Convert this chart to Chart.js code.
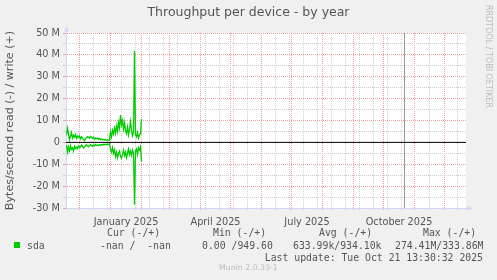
<!DOCTYPE html>
<html>
<head>
<meta charset="utf-8">
<title>Throughput per device - by year</title>
<script src="https://cdn.jsdelivr.net/npm/chart.js@4.4.1/dist/chart.umd.min.js"></script>
<style>
  body { margin: 0; background: #f0f0f0; }
  #wrap { position: relative; width: 497px; height: 280px; overflow: hidden; }
  #wrap canvas { position: absolute; left: 0; top: 0; }
  .lg { position: absolute; white-space: pre; font-family: "DejaVu Sans Mono", monospace; font-size: 9.8px; line-height: 12px; color: #555; }
  .wm { position: absolute; white-space: pre; font-family: "DejaVu Sans", sans-serif; color: #bbb; }
  #swatch { position: absolute; left: 14px; top: 242px; width: 6px; height: 6px; background: #00cc00; }
</style>
</head>
<body>
<div id="wrap">
  <canvas id="chart" width="497" height="280"></canvas>
  <div class="wm" style="left:483px; top:5px; font-size:8px; line-height:10px; writing-mode:vertical-rl;">RRDTOOL / TOBI OETIKER</div>
  <div id="swatch"></div>
  <div class="lg" style="left:107px; top:227px;">Cur (-/+)</div>
  <div class="lg" style="left:213px; top:227px;">Min (-/+)</div>
  <div class="lg" style="left:319px; top:227px;">Avg (-/+)</div>
  <div class="lg" style="left:423px; top:227px;">Max (-/+)</div>
  <div class="lg" style="left:27px; top:240px;">sda</div>
  <div class="lg" style="left:100px; top:240px;">-nan /  -nan</div>
  <div class="lg" style="left:202px; top:240px;">0.00 /949.60</div>
  <div class="lg" style="left:293px; top:240px;">633.99k/934.10k</div>
  <div class="lg" style="left:395px; top:240px;">274.41M/333.86M</div>
  <div class="lg" style="right:14px; top:252px;">Last update: Tue Oct 21 13:30:32 2025</div>
  <div class="wm" style="left:219px; top:263px; font-size:7.8px; line-height:10px;">Munin 2.0.33-1</div>
</div>
<script>
// days counted from 1 January 2025
const xMin = -44.5;
const xMax = 355.5;
const startDay = -44;
const nowDay = 294;

const monthStartDays = [-31, 0, 31, 59, 90, 120, 151, 181, 212, 243, 273, 304, 334];
const weekGridDays = [-17, -3, 11, 25, 39, 53, 67, 81, 95, 109, 123, 137, 165, 179, 193, 207, 221, 235, 249, 263, 277, 291, 319, 347];
const xLabelDays = [15.5, 105, 196.5, 288.5];
const xLabels = ['January 2025', 'April 2025', 'July 2025', 'October 2025'];

// MB/s
const yMin = -30;
const yMax = 50;
const yMajorTicks = [-30, -20, -10, 0, 10, 20, 30, 40, 50];
const yMinorTicks = [-25, -15, -5, 5, 15, 25, 35, 45];

// one value per day from startDay
const writeValues = [
  3.5, 6.5, 4.0, 1.2, 2.8, 4.5, 2.0, 3.2, 2.4, 3.6, 1.8, 2.9, 2.2, 3.0, 1.6, 2.5,
  2.0, 1.3, 0.8, 1.6, 2.1, 2.6, 2.3, 1.9, 2.7, 2.2, 1.8, 2.4, 1.5, 2.0, 1.6, 1.9,
  1.4, 1.7, 1.3, 1.5, 1.2, 1.4, 1.1, 1.3, 1.0, 1.2, 0.9, 1.0,
  4.8, 2.5, 5.5, 3.8, 6.5, 4.0, 7.5, 5.0, 9.0, 6.5, 12.5, 8.0, 10.0, 6.0, 9.0, 5.5,
  4.0, 7.0, 3.5, 6.0, 9.5, 5.5, 3.0, 4.5, 41.8, 3.5, 2.5, 4.5, 2.0, 3.5, 4.0, 10.7
];
const readValues = [
  1.2, 4.5, 2.0, 3.8, 1.5, 3.2, 2.5, 4.0, 1.8, 2.8, 2.2, 3.0, 1.6, 2.4, 2.0, 1.2,
  1.8, 2.6, 2.2, 1.5, 1.1, 1.6, 2.0, 1.4, 1.0, 1.5, 1.8, 1.2, 1.6, 1.0, 1.4, 1.2,
  1.5, 1.0, 1.3, 1.1, 1.2, 0.9, 1.1, 0.8, 1.0, 0.8, 0.9, 0.7,
  3.0, 4.5, 2.5, 5.0, 3.5, 6.5, 4.5, 7.0, 5.0, 4.0, 6.5, 7.2, 5.5, 3.5, 6.0, 4.5,
  7.0, 5.0, 3.0, 5.5, 4.0, 6.0, 3.5, 5.0, 28.5, 4.0, 3.0, 5.5, 2.5, 3.5, 2.0, 8.8
];

const green = '#00cc00';
const textColor = '#555555';
const axisColor = '#cfd6f8';
const majorGrid = '#eba0a0';
const minorGrid = '#d0d0d0';
const tickFont = { family: 'DejaVu Sans', size: 9.72, lineHeight: 1 };

const writePoints = writeValues.map((v, i) => ({ x: startDay + i, y: v }));
const readPoints = readValues.map((v, i) => ({ x: startDay + i, y: -v }));

const canvasBg = {
  id: 'canvasBg',
  beforeDraw(chart) {
    const { ctx, chartArea: a } = chart;
    ctx.save();
    ctx.fillStyle = '#f0f0f0';
    ctx.fillRect(0, 0, chart.width, chart.height);
    ctx.fillStyle = '#ffffff';
    ctx.fillRect(a.left, a.top, a.right - a.left, a.bottom - a.top);
    ctx.restore();
  }
};

// rrdtool style arrows on the axes
const axisArrows = {
  id: 'axisArrows',
  afterDraw(chart) {
    const { ctx, chartArea: a } = chart;
    ctx.save();
    ctx.strokeStyle = axisColor;
    ctx.fillStyle = axisColor;
    ctx.lineWidth = 1;
    ctx.beginPath();
    ctx.moveTo(a.left + 0.5, a.top);
    ctx.lineTo(a.left + 0.5, a.top - 3);
    ctx.moveTo(a.right, a.bottom + 0.5);
    ctx.lineTo(a.right + 3, a.bottom + 0.5);
    ctx.stroke();
    ctx.beginPath();
    ctx.moveTo(a.left - 2, a.top - 1.5);
    ctx.lineTo(a.left + 3, a.top - 1.5);
    ctx.lineTo(a.left + 0.5, a.top - 6.5);
    ctx.closePath();
    ctx.fill();
    ctx.beginPath();
    ctx.moveTo(a.right + 1.5, a.bottom - 2);
    ctx.lineTo(a.right + 1.5, a.bottom + 3);
    ctx.lineTo(a.right + 6.5, a.bottom + 0.5);
    ctx.closePath();
    ctx.fill();
    ctx.restore();
  }
};

// extra zero-size axes that only carry one kind of grid line
function gridAxis(position, min, max, values, color, tickLength) {
  return {
    type: 'linear',
    position,
    min,
    max,
    weight: 0,
    afterBuildTicks: s => { s.ticks = values.map(v => ({ value: v })); },
    afterFit: s => { if (s.isHorizontal()) s.height = 0; else s.width = 0; },
    grid: { color, tickLength },
    border: { display: false, dash: [1, 1] },
    ticks: { display: false, autoSkip: false }
  };
}

new Chart(document.getElementById('chart'), {
  type: 'line',
  data: {
    datasets: [
      { label: 'zero', data: [{ x: xMin, y: 0 }, { x: xMax, y: 0 }], borderColor: '#000000', borderWidth: 1, xAxisID: 'x', yAxisID: 'y' },
      { label: 'sda write', data: writePoints, borderColor: green, borderWidth: 1.3, xAxisID: 'x', yAxisID: 'y' },
      { label: 'sda read', data: readPoints, borderColor: green, borderWidth: 1.3, xAxisID: 'x', yAxisID: 'y' },
      { label: 'now', data: [{ x: nowDay, y: yMin }, { x: nowDay, y: yMax }], borderColor: '#999999', borderWidth: 1, xAxisID: 'x', yAxisID: 'y' }
    ]
  },
  options: {
    responsive: false,
    animation: false,
    devicePixelRatio: 1,
    layout: { padding: 0 },
    elements: { point: { radius: 0 }, line: { tension: 0 } },
    plugins: {
      legend: { display: false },
      tooltip: { enabled: false },
      title: {
        display: true,
        text: 'Throughput per device - by year',
        color: textColor,
        font: { family: 'DejaVu Sans', size: 12.5, weight: 'normal', lineHeight: 1.2 },
        padding: { top: 5, bottom: 13 }
      }
    },
    scales: {
      xWeek: gridAxis('bottom', xMin, xMax, weekGridDays, minorGrid, 2),
      xMonth: gridAxis('bottom', xMin, xMax, monthStartDays, majorGrid, 2),
      x: {
        type: 'linear',
        position: 'bottom',
        weight: 1,
        min: xMin,
        max: xMax,
        afterBuildTicks: s => { s.ticks = xLabelDays.map(v => ({ value: v })); },
        afterFit: s => { s.height = 72; },
        grid: { display: false },
        border: { display: true, color: axisColor },
        ticks: {
          autoSkip: false,
          maxRotation: 0,
          minRotation: 0,
          padding: 2,
          color: textColor,
          font: tickFont,
          callback: v => xLabels[xLabelDays.indexOf(v)] || ''
        }
      },
      yMinor: gridAxis('left', yMin, yMax, yMinorTicks, minorGrid, 3),
      y: {
        type: 'linear',
        position: 'left',
        weight: 1,
        min: yMin,
        max: yMax,
        afterBuildTicks: s => { s.ticks = yMajorTicks.map(v => ({ value: v })); },
        afterFit: s => { s.width = 66; },
        grid: { color: majorGrid, tickLength: 3 },
        border: { display: true, color: axisColor, dash: [1, 1] },
        ticks: {
          autoSkip: false,
          padding: 3,
          color: textColor,
          font: { family: 'DejaVu Sans', size: 9.72 },
          callback: v => (v === 0 ? '0' : v + ' M')
        },
        title: {
          display: true,
          text: 'Bytes/second read (-) / write (+)',
          color: textColor,
          font: { family: 'DejaVu Sans', size: 11.1, lineHeight: 1.2 },
          padding: { top: 3.5, bottom: 0 }
        }
      },
      yr: {
        type: 'linear',
        position: 'right',
        grid: { display: false },
        border: { display: false },
        ticks: { display: false },
        afterFit: s => { s.width = 31; }
      }
    }
  },
  plugins: [canvasBg, axisArrows]
});
</script>
</body>
</html>
